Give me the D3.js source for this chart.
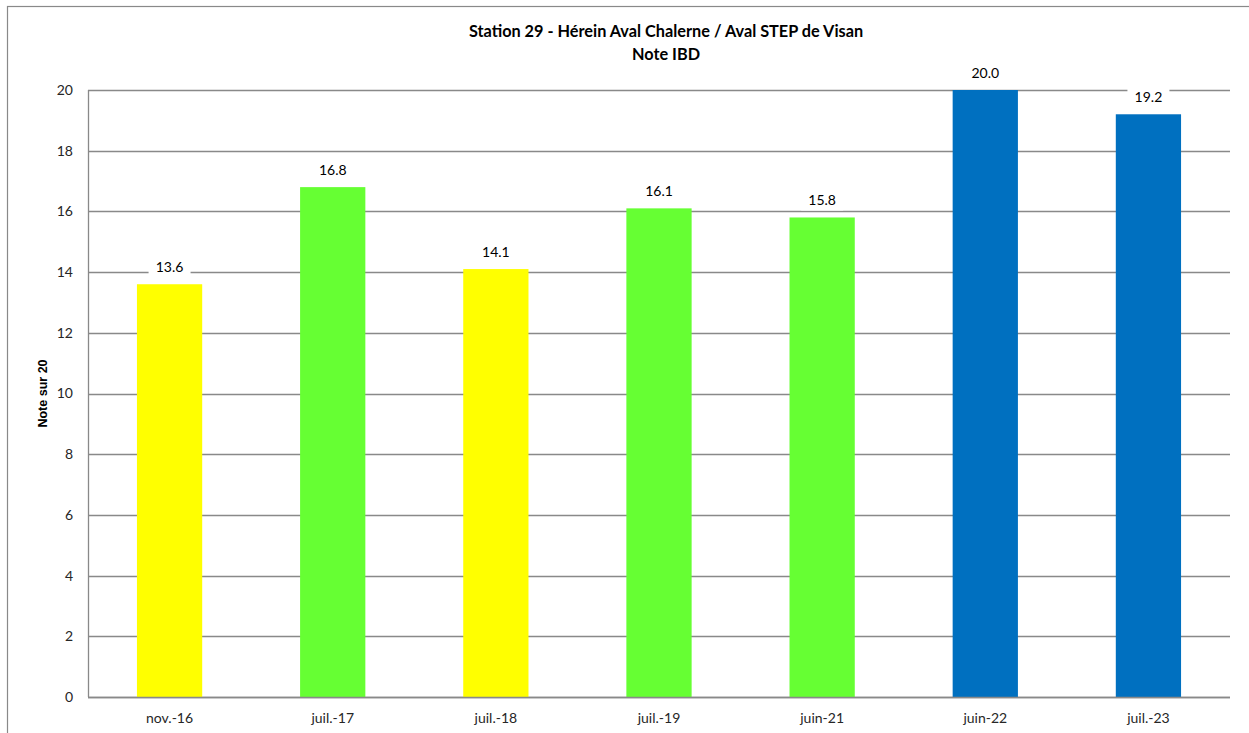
<!DOCTYPE html>
<html>
<head>
<meta charset="utf-8">
<script src="https://cdn.jsdelivr.net/npm/d3@7"></script>
<style>
  body { margin: 0; background: #fff; }
  svg text { font-family: Lato, "Open Sans", sans-serif; }
</style>
</head>
<body>
<div id="chart"></div>
<script>
var dates = ["nov.-16", "juil.-17", "juil.-18", "juil.-19", "juin-21", "juin-22", "juil.-23"];
var notes = [13.6, 16.8, 14.1, 16.1, 15.8, 20.0, 19.2];
var barColors = ["#FFFF00", "#66FF33", "#FFFF00", "#66FF33", "#66FF33", "#0070C0", "#0070C0"];
var yTicks = [0, 2, 4, 6, 8, 10, 12, 14, 16, 18, 20];

var W = 1249, H = 733;
var margin = {top: 90, right: 19, bottom: 36, left: 88},
    width = W - margin.left - margin.right,
    height = H - margin.top - margin.bottom;

var svg = d3.select("#chart").append("svg")
    .attr("width", W)
    .attr("height", H);

// chart frame
svg.append("rect")
    .attr("x", 7.5).attr("y", 6.5)
    .attr("width", W).attr("height", H)
    .attr("fill", "none")
    .attr("stroke", "#898989")
    .attr("stroke-width", 1.2);

svg.append("text")
    .attr("x", 666).attr("y", 37)
    .attr("text-anchor", "middle")
    .attr("font-weight", "bold")
    .attr("font-size", "16.3px")
    .attr("fill", "#000")
    .text("Station 29 - Hérein Aval Chalerne / Aval STEP de Visan");
svg.append("text")
    .attr("x", 666).attr("y", 60)
    .attr("text-anchor", "middle")
    .attr("font-weight", "bold")
    .attr("font-size", "16.3px")
    .attr("fill", "#000")
    .text("Note IBD");

var g = svg.append("g")
    .attr("transform", "translate(" + margin.left + "," + margin.top + ")");

var x = d3.scaleBand().domain(dates).range([0, width]).paddingInner(0.6).paddingOuter(0.3);
var y = d3.scaleLinear().domain([0, 20]).range([height, 0]);

// gridlines
g.selectAll(".grid")
    .data(yTicks)
    .enter().append("line")
    .attr("class", "grid")
    .attr("x1", 0).attr("x2", width)
    .attr("y1", function (d) { return Math.round(y(d)) + 0.5; })
    .attr("y2", function (d) { return Math.round(y(d)) + 0.5; })
    .attr("stroke", "#898989")
    .attr("stroke-width", 1.3);

// left axis line
g.append("line")
    .attr("x1", 0.5).attr("x2", 0.5)
    .attr("y1", 0).attr("y2", height)
    .attr("stroke", "#898989")
    .attr("stroke-width", 1.3);

// bars
g.selectAll(".bar")
    .data(notes)
    .enter().append("rect")
    .attr("class", "bar")
    .attr("x", function (d, i) { return x(dates[i]); })
    .attr("y", function (d) { return y(d); })
    .attr("width", x.bandwidth())
    .attr("height", function (d) { return height - y(d); })
    .attr("fill", function (d, i) { return barColors[i]; });

// redraw baseline over bars
g.append("line")
    .attr("x1", 0).attr("x2", width)
    .attr("y1", Math.round(y(0)) + 0.5).attr("y2", Math.round(y(0)) + 0.5)
    .attr("stroke", "#898989")
    .attr("stroke-width", 1.3);

// value labels with white box
var lab = g.selectAll(".val")
    .data(notes)
    .enter().append("g")
    .attr("class", "val")
    .attr("transform", function (d, i) {
        return "translate(" + (x(dates[i]) + x.bandwidth() / 2) + "," + (y(d) - 17) + ")";
    });
lab.append("rect")
    .attr("x", -21).attr("y", -10)
    .attr("width", 42).attr("height", 20)
    .attr("fill", "#fff");
lab.append("text")
    .attr("text-anchor", "middle")
    .attr("dy", "0.35em")
    .attr("font-size", "14px")
    .attr("fill", "#000")
    .text(function (d) { return d.toFixed(1); });

// y tick labels
g.selectAll(".ytick")
    .data(yTicks)
    .enter().append("text")
    .attr("class", "ytick")
    .attr("x", -15)
    .attr("y", function (d) { return y(d); })
    .attr("dy", "0.35em")
    .attr("text-anchor", "end")
    .attr("font-size", "14px")
    .attr("fill", "#262626")
    .text(function (d) { return d; });

// x tick labels
g.selectAll(".xtick")
    .data(dates)
    .enter().append("text")
    .attr("class", "xtick")
    .attr("x", function (d) { return x(d) + x.bandwidth() / 2; })
    .attr("y", height + 26)
    .attr("text-anchor", "middle")
    .attr("font-size", "14px")
    .attr("fill", "#262626")
    .text(function (d) { return d; });

// y axis title
svg.append("text")
    .attr("transform", "translate(47," + (margin.top + height / 2) + ") rotate(-90)")
    .attr("text-anchor", "middle")
    .style("font-family", "'Liberation Sans', Arial, sans-serif")
    .attr("font-weight", "bold")
    .attr("font-size", "12.5px")
    .attr("fill", "#000")
    .text("Note sur 20");
</script>
</body>
</html>
